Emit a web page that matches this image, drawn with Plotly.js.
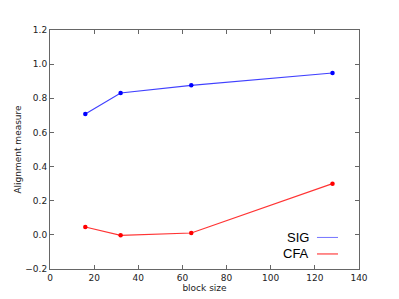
<!DOCTYPE html>
<html><head><meta charset="utf-8">
<script src="https://cdn.plot.ly/plotly-3.0.1.min.js"></script>
<style>html,body{margin:0;padding:0;background:#fff;}</style>
</head><body>
<div id="chart" style="width:399px;height:299px;"></div>
<script>
const blockSizes = [16, 32, 64, 128];
const sigValues = [0.708, 0.831, 0.876, 0.948];
const cfaValues = [0.046, -0.003, 0.011, 0.300];
const seriesNames = ["SIG", "CFA"];

const traces = [
  {x: blockSizes, y: sigValues, name: seriesNames[0], mode: 'lines+markers',
   line: {color: 'rgba(0,0,255,0.75)', width: 1.2}, marker: {color: '#0000ff', size: 4.5}},
  {x: blockSizes, y: cfaValues, name: seriesNames[1], mode: 'lines+markers',
   line: {color: 'rgba(255,0,0,0.8)', width: 1.2}, marker: {color: '#ff0000', size: 4.5}}
];

const axisCommon = {
  showgrid: false, zeroline: false, showline: true, linecolor: '#666', linewidth: 1,
  mirror: 'allticks', ticks: 'inside', ticklen: 4, tickcolor: '#666',
  tickfont: {family: 'DejaVu Sans', size: 9, color: '#222'}
};

const layout = {
  width: 399, height: 299,
  margin: {l: 50, r: 40, t: 30, b: 30},
  paper_bgcolor: '#fff', plot_bgcolor: '#fff',
  showlegend: false,
  xaxis: Object.assign({}, axisCommon, {range: [0, 140], tickvals: [0,20,40,60,80,100,120,140],
    title: {text: 'block size', font: {family: 'DejaVu Sans', size: 9, color: '#222'}, standoff: 1}}),
  yaxis: Object.assign({}, axisCommon, {range: [-0.2, 1.2], dtick: 0.2, tickformat: '.1f',
    title: {text: 'Alignment measure', font: {family: 'DejaVu Sans', size: 9, color: '#222'}, standoff: 2}}),
  annotations: [
    {xref: 'paper', yref: 'paper', x: 0.845, y: 0.132, xanchor: 'right', yanchor: 'middle',
     text: seriesNames[0], showarrow: false, font: {family: 'Liberation Sans', size: 13, color: '#000'}},
    {xref: 'paper', yref: 'paper', x: 0.845, y: 0.063, xanchor: 'right', yanchor: 'middle',
     text: seriesNames[1], showarrow: false, font: {family: 'Liberation Sans', size: 13, color: '#000'}}
  ],
  shapes: [
    {type: 'line', xref: 'paper', yref: 'paper', x0: 0.864, x1: 0.932, y0: 0.132, y1: 0.132,
     line: {color: 'rgba(0,0,255,0.55)', width: 1}},
    {type: 'line', xref: 'paper', yref: 'paper', x0: 0.864, x1: 0.932, y0: 0.063, y1: 0.063,
     line: {color: 'rgba(255,0,0,0.6)', width: 1.5}}
  ]
};

Plotly.newPlot('chart', traces, layout, {staticPlot: true, displayModeBar: false});
</script>
</body></html>
